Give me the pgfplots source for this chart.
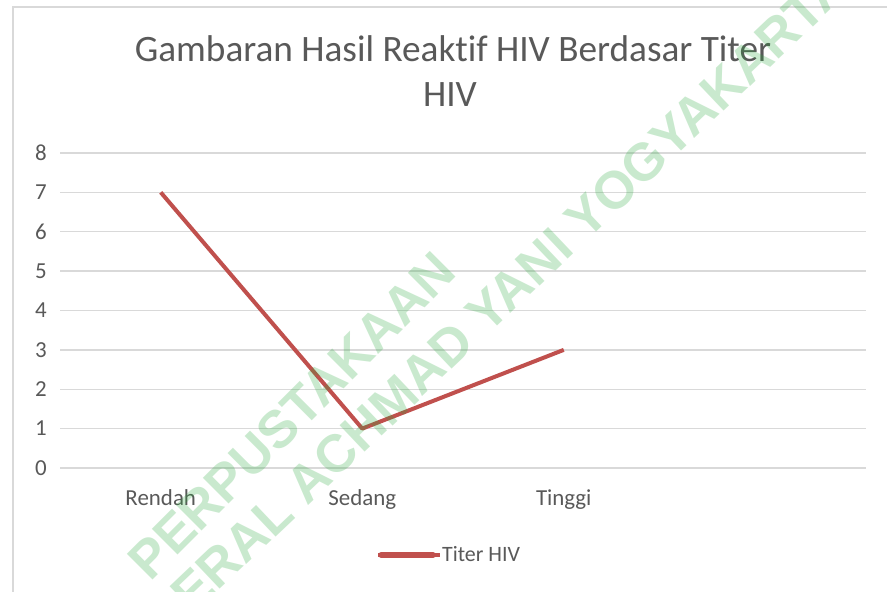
\documentclass[border=0pt]{standalone}
\usepackage{fontspec}
\setmainfont{Carlito}[Ligatures=NoCommon]
\newfontfamily\wmfont{Liberation Sans}
\usepackage{pgfplots}
\pgfplotsset{compat=1.18}
\definecolor{txtgray}{RGB}{89,89,89}
\definecolor{gridgray}{RGB}{217,217,217}
\definecolor{linered}{RGB}{192,80,77}
\definecolor{wmgreen}{RGB}{40,170,60}
\begin{document}
\begin{tikzpicture}[x=1bp,y=1bp]
\useasboundingbox (0,0) rectangle (887,592);
\fill[white] (0,0) rectangle (887,592);
\draw[gridgray, line width=1.2bp] (13,0) -- (13,585) -- (887,585);
\node[anchor=base, text=txtgray, font=\fontsize{37.4}{40}\selectfont] at (453,530) {Gambaran Hasil Reaktif HIV Berdasar Titer};
\node[anchor=base, text=txtgray, font=\fontsize{37.4}{40}\selectfont] at (450,485) {HIV};
\begin{axis}[
  at={(60bp,124bp)}, anchor=south west,
  scale only axis, width=806bp, height=315bp,
  xmin=0, xmax=4, ymin=0, ymax=8,
  xtick={0.5,1.5,2.5}, xticklabels={Rendah,Sedang,Tinggi},
  ytick={0,1,2,3,4,5,6,7,8},
  major tick length=0pt,
  axis line style={draw=none},
  ymajorgrids, grid style={gridgray, line width=1.3bp},
  /pgf/number format/assume math mode=true,
  yticklabel style={anchor=east, inner sep=0pt, xshift=-13bp, text=txtgray, font=\fontsize{23}{23}\selectfont},
  xticklabel style={anchor=base, inner sep=0pt, yshift=-38bp, text=txtgray, font=\fontsize{23}{23}\selectfont},
  legend style={at={(0.392,-0.2762)}, anchor=west, draw=none, fill=none, inner sep=0pt,
    font=\fontsize{22}{22}\selectfont, text=txtgray, nodes={inner sep=0pt},
    /tikz/every even column/.append style={column sep=0bp}},
  legend image code/.code={\draw[#1, line width=5.5bp, line cap=round] (3bp,0bp) -- (55bp,0bp); \path (0,0) -- (62bp,0);},
  clip=false,
]
\addplot[linered, line width=4bp, line join=round] coordinates {(0.5,7) (1.5,1) (2.5,3)};
\addlegendentry{Titer HIV}
\end{axis}
\begin{scope}
\clip (0,0) rectangle (887,592);
\node[rotate=45, anchor=base west, inner sep=0pt, text=wmgreen, opacity=0.25, font=\wmfont\bfseries\fontsize{53}{53}\selectfont] at (150,9) {PERPUSTAKAAN};
\node[rotate=43.5, anchor=base west, inner sep=0pt, text=wmgreen, opacity=0.25, font=\wmfont\bfseries\fontsize{53}{53}\selectfont] at (307,85) {\llap{UNIVERSITAS JENDERAL }ACHMAD YANI YOGYAKARTA};
\end{scope}
\end{tikzpicture}
\end{document}
